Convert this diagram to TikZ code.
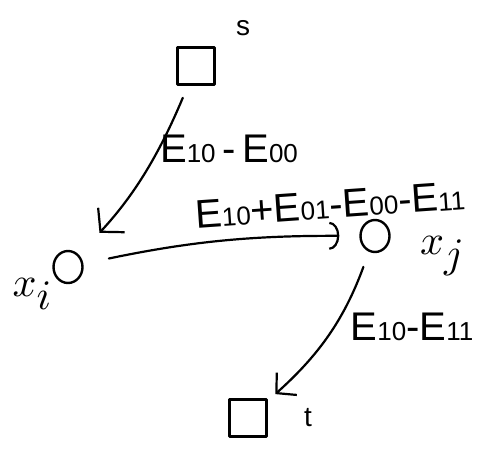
\documentclass[tikz,border=0pt]{standalone}
\usepackage{fontspec}
\setsansfont{Liberation Sans}
\usetikzlibrary{arrows.meta,shapes.geometric}
\newcommand\dg[1]{{\fontsize{26}{26}\selectfont #1}}
\newcommand\Ee[1]{E\dg{#1}}
\begin{document}
\begin{tikzpicture}[x=1pt,y=-1pt,
  line cap=round, line join=round,
  sq/.style={draw, line width=2.6pt, minimum width=37pt, minimum height=37pt, inner sep=0pt},
  vx/.style={draw, line width=2.4pt, ellipse, minimum width=29pt, minimum height=32pt, inner sep=0pt},
  conn/.style={draw, line width=2.2pt},
  lbl/.style={font=\sffamily\fontsize{40}{40}\selectfont, inner sep=0pt},
  tag/.style={font=\sffamily\fontsize{28}{28}\selectfont, inner sep=0pt},
  mtag/.style={inner sep=0pt}]
\useasboundingbox (0,0) rectangle (490,453);
% vertices
\node[sq] (s) at (196,66) {};
\node[sq] (t) at (248,418) {};
\node[vx] (xi) at (68,267) {};
\node[vx] (xj) at (375,236) {};
% vertex names
\node[tag] (sl) at (243,28) {s};
\node[tag] (tl) at (308,418) {t};
\node[mtag] (xil) at (33,294) {\scalebox{4.2}{$x_{\textstyle i}$}};
\node[mtag] (xjl) at (443,256) {\scalebox{4.2}{$x_{\textstyle j}$}};
% connectors
\draw[conn, -{Straight Barb[length=16pt,width=36pt]}, shorten <=13pt, shorten >=30pt]
  (s) to[bend left=10] (xi);
\draw[conn, -{Arc Barb[length=10pt,width=28pt]}, shorten <=26pt, shorten >=20pt]
  (xi) to[bend left=6] (xj);
\draw[conn, -{Straight Barb[length=14pt,width=30pt]}, shorten <=16pt, shorten >=10pt]
  (xj) to[bend left=14] (t);
% edge labels
\node[lbl] (l1) at (229,149) {\Ee{10}\,-\,\Ee{00}};
\node[lbl, rotate=4] (l2) at (330,205) {\Ee{10}+\Ee{01}-\Ee{00}-\Ee{11}};
\node[lbl] (l3) at (412,327) {\Ee{10}-\Ee{11}};
\end{tikzpicture}
\end{document}
